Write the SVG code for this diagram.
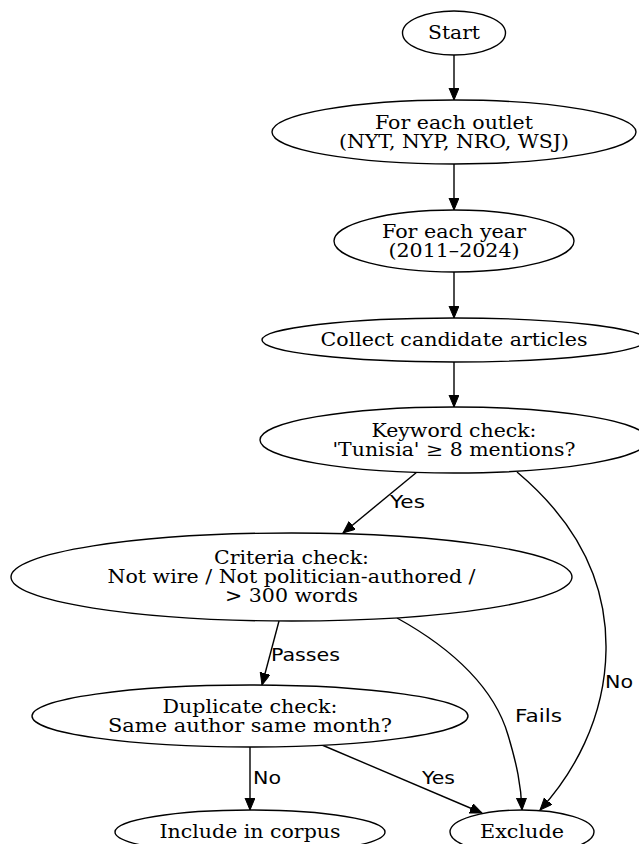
<svg xmlns="http://www.w3.org/2000/svg" width="639" height="844" viewBox="0 0 639 844">
<style>
.node ellipse{fill:#ffffff;stroke:#000000;stroke-width:1.4}
.node text{font-family:"DejaVu Serif","Liberation Serif",serif;font-size:18px;fill:#000000;text-anchor:middle}
.edges path{fill:none;stroke:#000000;stroke-width:1.4;marker-end:url(#arrow)}
.edges text{font-family:"DejaVu Sans","Liberation Sans",sans-serif;font-size:18px;fill:#000000}
</style>
<defs>
<marker id="arrow" markerUnits="userSpaceOnUse" markerWidth="14" markerHeight="12" refX="12" refY="5" orient="auto">
<path d="M0,0 L12,5 L0,10 z" fill="#000000" stroke="#000000" stroke-width="1"/>
</marker>
</defs>
<rect width="639" height="844" fill="#ffffff"/>
<g id="edges" class="edges">
<path d="M454,55 L454,100"/>
<path d="M454,164 L454,210"/>
<path d="M454,272 L454,318"/>
<path d="M454,362 L454,407"/>
<path d="M417,472 L343,533"/>
<text x="390" y="508" textLength="35" lengthAdjust="spacingAndGlyphs">Yes</text>
<path d="M517,472 C580,525 607,585 606,650 C605,720 572,775 540,810"/>
<text x="605" y="688" textLength="28" lengthAdjust="spacingAndGlyphs">No</text>
<path d="M279,621 L262,685"/>
<text x="271" y="661" textLength="69" lengthAdjust="spacingAndGlyphs">Passes</text>
<path d="M397,618 C455,650 495,690 508,735 C517,765 521,785 522,810"/>
<text x="515" y="722" textLength="47" lengthAdjust="spacingAndGlyphs">Fails</text>
<path d="M250,747 L250,810"/>
<text x="253" y="784" textLength="28" lengthAdjust="spacingAndGlyphs">No</text>
<path d="M322,745 L482,813"/>
<text x="422" y="784" textLength="33" lengthAdjust="spacingAndGlyphs">Yes</text>
</g>
<g id="start" class="node">
<ellipse cx="454" cy="33" rx="51.5" ry="22"/>
<text x="454" y="39" textLength="52" lengthAdjust="spacingAndGlyphs">Start</text>
</g>
<g id="outlet" class="node">
<ellipse cx="454" cy="132" rx="182" ry="32"/>
<text x="454" y="129" textLength="158" lengthAdjust="spacingAndGlyphs">For each outlet</text>
<text x="454" y="148" textLength="230" lengthAdjust="spacingAndGlyphs">(NYT, NYP, NRO, WSJ)</text>
</g>
<g id="year" class="node">
<ellipse cx="454" cy="241" rx="120" ry="31"/>
<text x="454" y="238" textLength="144" lengthAdjust="spacingAndGlyphs">For each year</text>
<text x="454" y="257" textLength="131" lengthAdjust="spacingAndGlyphs">(2011–2024)</text>
</g>
<g id="collect" class="node">
<ellipse cx="454" cy="340" rx="192" ry="22"/>
<text x="454" y="346" textLength="267" lengthAdjust="spacingAndGlyphs">Collect candidate articles</text>
</g>
<g id="keyword" class="node">
<ellipse cx="454" cy="440" rx="194" ry="33"/>
<text x="454" y="436.5" textLength="165" lengthAdjust="spacingAndGlyphs">Keyword check:</text>
<text x="454" y="455.5" textLength="243" lengthAdjust="spacingAndGlyphs">'Tunisia' ≥ 8 mentions?</text>
</g>
<g id="criteria" class="node">
<ellipse cx="291.5" cy="577" rx="280.5" ry="44"/>
<text x="291.5" y="564" textLength="155" lengthAdjust="spacingAndGlyphs">Criteria check:</text>
<text x="291.5" y="583" textLength="368" lengthAdjust="spacingAndGlyphs">Not wire / Not politician-authored /</text>
<text x="291.5" y="602" textLength="133" lengthAdjust="spacingAndGlyphs">&gt; 300 words</text>
</g>
<g id="duplicate" class="node">
<ellipse cx="250" cy="716" rx="218" ry="31"/>
<text x="250" y="713" textLength="175" lengthAdjust="spacingAndGlyphs">Duplicate check:</text>
<text x="250" y="732" textLength="284" lengthAdjust="spacingAndGlyphs">Same author same month?</text>
</g>
<g id="include" class="node">
<ellipse cx="250" cy="832" rx="135" ry="22"/>
<text x="250" y="838" textLength="181" lengthAdjust="spacingAndGlyphs">Include in corpus</text>
</g>
<g id="exclude" class="node">
<ellipse cx="522" cy="832" rx="72" ry="22"/>
<text x="522" y="838" textLength="84" lengthAdjust="spacingAndGlyphs">Exclude</text>
</g>
</svg>
